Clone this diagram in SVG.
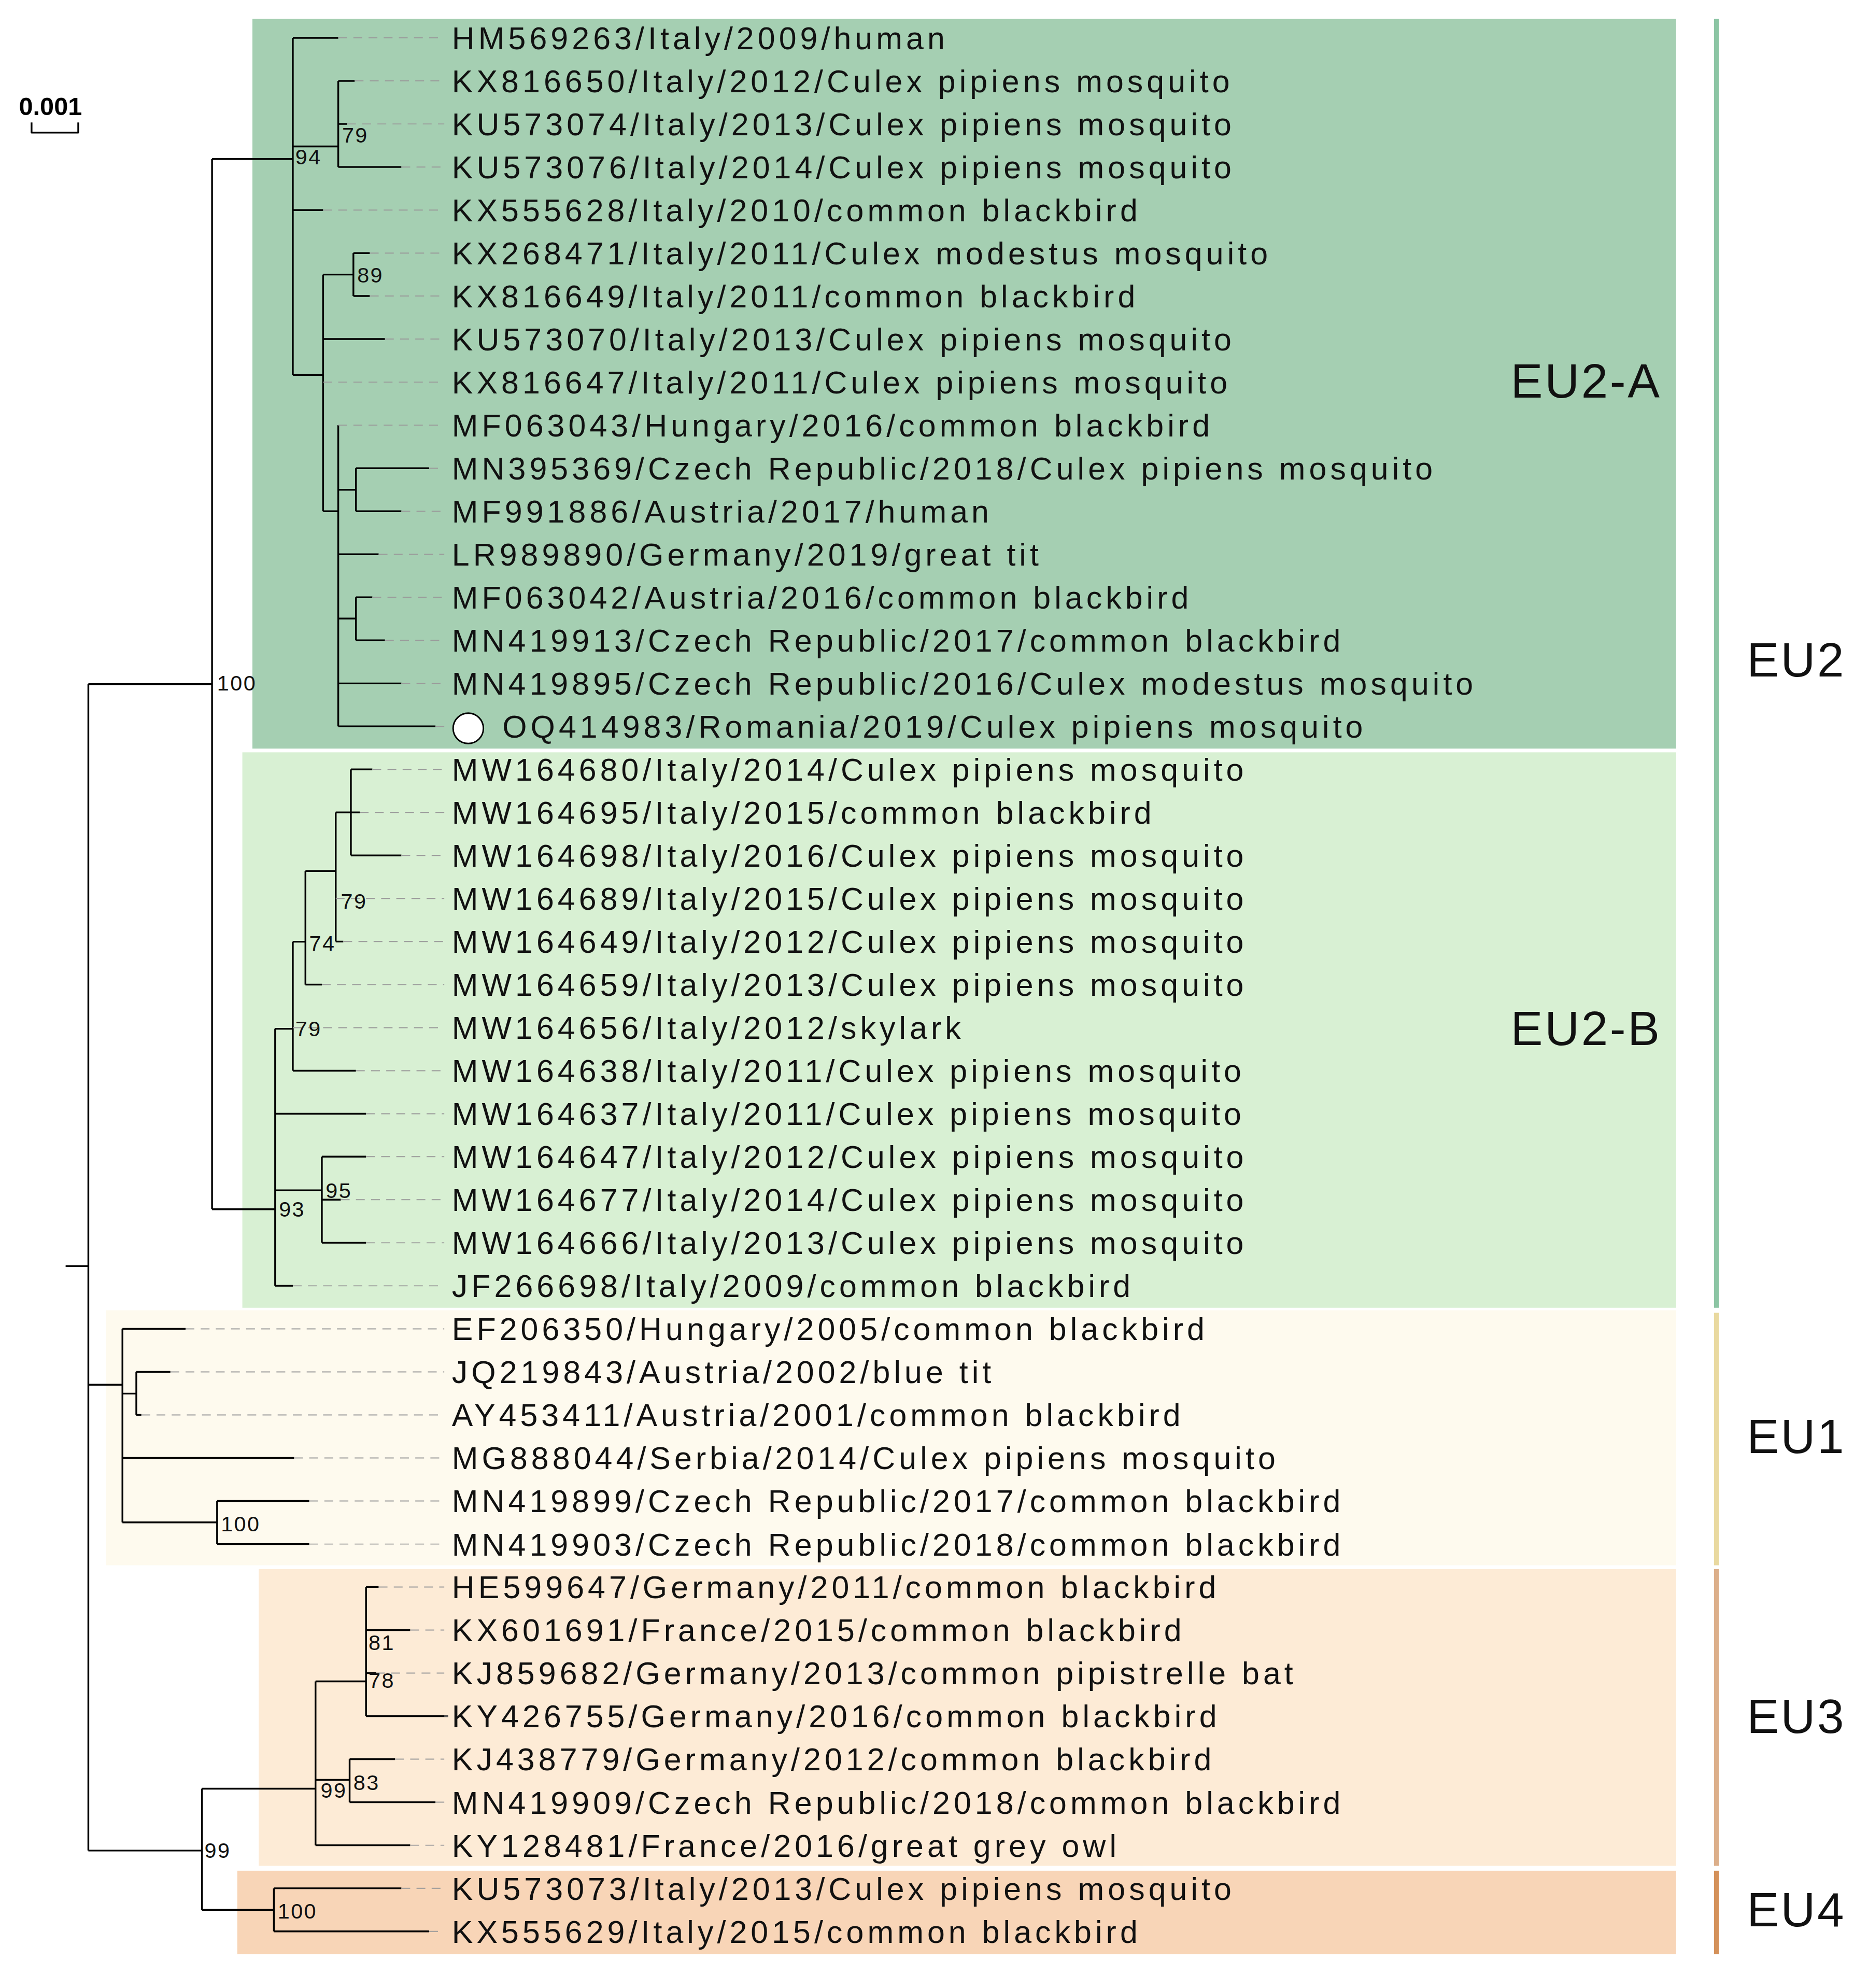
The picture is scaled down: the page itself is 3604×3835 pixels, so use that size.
<svg xmlns="http://www.w3.org/2000/svg" width="3604" height="3835" viewBox="0 0 3604 3835">
<style>
.t{font-family:"Liberation Sans",Arial,sans-serif;font-size:25px;letter-spacing:2.9px;fill:#111}
.b{font-family:"Liberation Sans",Arial,sans-serif;font-size:17px;letter-spacing:1px;fill:#111}
.c{font-family:"Liberation Sans",Arial,sans-serif;font-size:38px;letter-spacing:1.5px;fill:#111}
.d{stroke:#9a9a9a;stroke-width:0.8;stroke-dasharray:7 5;fill:none}
.br{stroke:#000;stroke-width:1.4;fill:none;stroke-linejoin:round}
</style>
<rect width="3604" height="3835" fill="#fff"/>
<g transform="scale(2.4351)">
<g id="backgrounds">
<rect x="200" y="15" width="1128" height="578" fill="#a5cfb2"/>
<rect x="192" y="596" width="1136" height="440" fill="#d8f0d3"/>
<rect x="84" y="1038" width="1244" height="202" fill="#fefaee"/>
<rect x="205" y="1243" width="1123" height="235" fill="#fdebd6"/>
<rect x="188" y="1482" width="1140" height="66" fill="#f8d5b7"/>
<rect x="1358" y="15" width="4" height="1021" fill="#8cc5a4"/>
<rect x="1358" y="1040" width="4" height="200" fill="#e9d9a0"/>
<rect x="1358" y="1243" width="4" height="235" fill="#dcaf8a"/>
<rect x="1358" y="1482" width="4" height="66" fill="#d4915a"/>
</g>
<g id="clade-labels">
<text class="c" x="1197" y="315">EU2-A</text>
<text class="c" x="1197" y="828">EU2-B</text>
<text class="c" x="1384" y="536">EU2</text>
<text class="c" x="1384" y="1151">EU1</text>
<text class="c" x="1384" y="1373">EU3</text>
<text class="c" x="1384" y="1526">EU4</text>
</g>
<g id="scale">
<text x="15" y="91" style="font-family:'Liberation Sans',Arial,sans-serif;font-size:20px;font-weight:bold">0.001</text>
<path d="M25,97 V105 H62 V97" class="br"/>
</g>
<g id="connectors">
<path class="br" d="M52,1003H70M70,542V1466M70,542H168M70,1097H97M70,1466H160
M168,126V958M168,126H232M168,958H218
M232,30V297M232,30H268M232,116H268M232,166.4H256M232,297H256
M268,64.1V132.3M268,64.1H281M268,98.2H275M268,132.3H318
M256,217.5V405M256,217.5H280M256,268.6H305M256,405H268
M280,200.5V234.5M280,200.5H293M280,234.5H293
M268,336.8V575.4M268,388H282M268,439.1H300M268,490H282M268,541.4H318M268,575.4H345
M282,370.9V405M282,370.9H340M282,405H318
M282,473.2V507.3M282,473.2H295M282,507.3H305
M218,815V1018.6M218,815H232M218,882.3H290M218,943H255M218,1018.6H232
M232,746V848.2M232,746H242M232,848.2H282
M242,690V780M242,690H266M242,780H255
M266,643.6V745.9M266,643.6H278M266,745.9H272
M278,609.5V677.7M278,609.5H295M278,643.6H285M278,677.7H318
M255,916.3V984.5M255,916.3H290M255,950.4H270M255,984.5H290
M97,1052.7V1206M97,1052.7H147M97,1104H108M97,1155H233M97,1206H172
M108,1086.8V1120.9M108,1086.8H135M108,1120.9H112
M172,1189.1V1223.2M172,1189.1H245M172,1223.2H245
M160,1417V1513M160,1417H250M160,1513H217
M217,1495.9V1530M217,1495.9H318M217,1530H340
M250,1332V1461.8M250,1332H290M250,1410H277M250,1461.8H325
M290,1257.2V1359.5M290,1257.2H300M290,1291.3H325M290,1325.4H298M290,1359.5H355
M277,1393.6V1427.7M277,1393.6H313M277,1427.7H345"/>
<path class="d" d="M268,30H352M281,64.1H352M275,98.2H352M318,132.3H352M256,166.4H352M293,200.5H352M293,234.5H352M305,268.6H352M256,302.7H352M268,336.8H352M340,370.9H352M318,405H352M300,439.1H352M295,473.2H352M305,507.3H352M318,541.4H352M345,575.4H355
M295,609.5H352M285,643.6H352M318,677.7H352M266,711.8H352M272,745.9H352M255,780H352M232,814.1H352M282,848.2H352M290,882.3H352M290,916.3H352M270,950.4H352M290,984.5H352M232,1018.6H352
M147,1052.7H352M135,1086.8H352M112,1120.9H352M233,1155H352M245,1189.1H352M245,1223.2H352
M300,1257.2H352M325,1291.3H352M298,1325.4H352M355,1359.5H352M313,1393.6H352M345,1427.7H352M325,1461.8H352M318,1495.9H352M340,1530H352"/>
</g>
<g id="support">
<text class="b" x="172" y="547">100</text>
<text class="b" x="234" y="130">94</text>
<text class="b" x="271" y="113">79</text>
<text class="b" x="283" y="224">89</text>
<text class="b" x="270" y="720">79</text>
<text class="b" x="245" y="753">74</text>
<text class="b" x="234" y="821">79</text>
<text class="b" x="221" y="964">93</text>
<text class="b" x="258" y="949">95</text>
<text class="b" x="175" y="1213">100</text>
<text class="b" x="162" y="1472">99</text>
<text class="b" x="220" y="1520">100</text>
<text class="b" x="254" y="1424">99</text>
<text class="b" x="280" y="1418">83</text>
<text class="b" x="292" y="1307">81</text>
<text class="b" x="292" y="1337">78</text>
</g>
<g id="tips">
<g id="tip0"><text class="t" x="358" y="39">HM569263/Italy/2009/human</text></g>
<g id="tip1"><text class="t" x="358" y="73.1">KX816650/Italy/2012/Culex pipiens mosquito</text></g>
<g id="tip2"><text class="t" x="358" y="107.2">KU573074/Italy/2013/Culex pipiens mosquito</text></g>
<g id="tip3"><text class="t" x="358" y="141.3">KU573076/Italy/2014/Culex pipiens mosquito</text></g>
<g id="tip4"><text class="t" x="358" y="175.4">KX555628/Italy/2010/common blackbird</text></g>
<g id="tip5"><text class="t" x="358" y="209.5">KX268471/Italy/2011/Culex modestus mosquito</text></g>
<g id="tip6"><text class="t" x="358" y="243.5">KX816649/Italy/2011/common blackbird</text></g>
<g id="tip7"><text class="t" x="358" y="277.6">KU573070/Italy/2013/Culex pipiens mosquito</text></g>
<g id="tip8"><text class="t" x="358" y="311.7">KX816647/Italy/2011/Culex pipiens mosquito</text></g>
<g id="tip9"><text class="t" x="358" y="345.8">MF063043/Hungary/2016/common blackbird</text></g>
<g id="tip10"><text class="t" x="358" y="379.9">MN395369/Czech Republic/2018/Culex pipiens mosquito</text></g>
<g id="tip11"><text class="t" x="358" y="414">MF991886/Austria/2017/human</text></g>
<g id="tip12"><text class="t" x="358" y="448.1">LR989890/Germany/2019/great tit</text></g>
<g id="tip13"><text class="t" x="358" y="482.2">MF063042/Austria/2016/common blackbird</text></g>
<g id="tip14"><text class="t" x="358" y="516.3">MN419913/Czech Republic/2017/common blackbird</text></g>
<g id="tip15"><text class="t" x="358" y="550.4">MN419895/Czech Republic/2016/Culex modestus mosquito</text></g>
<g id="tip16"><circle cx="371" cy="577" r="12" fill="#fff" stroke="#000" stroke-width="1.2"/><text class="t" x="398" y="584.4">OQ414983/Romania/2019/Culex pipiens mosquito</text></g>
<g id="tip17"><text class="t" x="358" y="618.5">MW164680/Italy/2014/Culex pipiens mosquito</text></g>
<g id="tip18"><text class="t" x="358" y="652.6">MW164695/Italy/2015/common blackbird</text></g>
<g id="tip19"><text class="t" x="358" y="686.7">MW164698/Italy/2016/Culex pipiens mosquito</text></g>
<g id="tip20"><text class="t" x="358" y="720.8">MW164689/Italy/2015/Culex pipiens mosquito</text></g>
<g id="tip21"><text class="t" x="358" y="754.9">MW164649/Italy/2012/Culex pipiens mosquito</text></g>
<g id="tip22"><text class="t" x="358" y="789">MW164659/Italy/2013/Culex pipiens mosquito</text></g>
<g id="tip23"><text class="t" x="358" y="823.1">MW164656/Italy/2012/skylark</text></g>
<g id="tip24"><text class="t" x="358" y="857.2">MW164638/Italy/2011/Culex pipiens mosquito</text></g>
<g id="tip25"><text class="t" x="358" y="891.3">MW164637/Italy/2011/Culex pipiens mosquito</text></g>
<g id="tip26"><text class="t" x="358" y="925.3">MW164647/Italy/2012/Culex pipiens mosquito</text></g>
<g id="tip27"><text class="t" x="358" y="959.4">MW164677/Italy/2014/Culex pipiens mosquito</text></g>
<g id="tip28"><text class="t" x="358" y="993.5">MW164666/Italy/2013/Culex pipiens mosquito</text></g>
<g id="tip29"><text class="t" x="358" y="1027.6">JF266698/Italy/2009/common blackbird</text></g>
<g id="tip30"><text class="t" x="358" y="1061.7">EF206350/Hungary/2005/common blackbird</text></g>
<g id="tip31"><text class="t" x="358" y="1095.8">JQ219843/Austria/2002/blue tit</text></g>
<g id="tip32"><text class="t" x="358" y="1129.9">AY453411/Austria/2001/common blackbird</text></g>
<g id="tip33"><text class="t" x="358" y="1164">MG888044/Serbia/2014/Culex pipiens mosquito</text></g>
<g id="tip34"><text class="t" x="358" y="1198.1">MN419899/Czech Republic/2017/common blackbird</text></g>
<g id="tip35"><text class="t" x="358" y="1232.2">MN419903/Czech Republic/2018/common blackbird</text></g>
<g id="tip36"><text class="t" x="358" y="1266.2">HE599647/Germany/2011/common blackbird</text></g>
<g id="tip37"><text class="t" x="358" y="1300.3">KX601691/France/2015/common blackbird</text></g>
<g id="tip38"><text class="t" x="358" y="1334.4">KJ859682/Germany/2013/common pipistrelle bat</text></g>
<g id="tip39"><text class="t" x="358" y="1368.5">KY426755/Germany/2016/common blackbird</text></g>
<g id="tip40"><text class="t" x="358" y="1402.6">KJ438779/Germany/2012/common blackbird</text></g>
<g id="tip41"><text class="t" x="358" y="1436.7">MN419909/Czech Republic/2018/common blackbird</text></g>
<g id="tip42"><text class="t" x="358" y="1470.8">KY128481/France/2016/great grey owl</text></g>
<g id="tip43"><text class="t" x="358" y="1504.9">KU573073/Italy/2013/Culex pipiens mosquito</text></g>
<g id="tip44"><text class="t" x="358" y="1539">KX555629/Italy/2015/common blackbird</text></g>
</g>
</g>
</svg>
